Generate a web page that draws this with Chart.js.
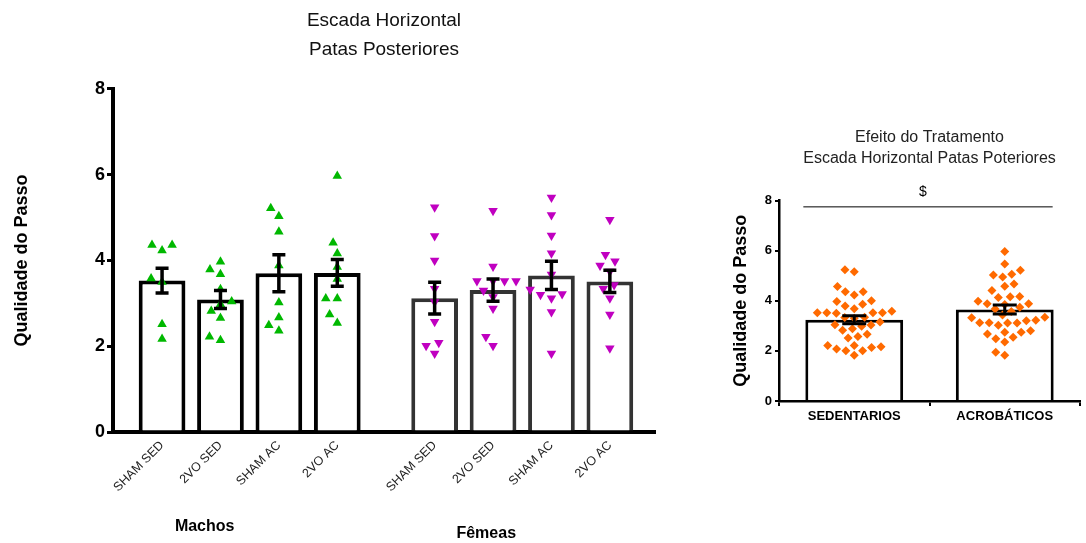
<!DOCTYPE html>
<html>
<head>
<meta charset="utf-8">
<script src="https://cdn.jsdelivr.net/npm/chart.js@4.4.1/dist/chart.umd.min.js"></script>
<style>
    body { margin: 0; background: #fff; }
    #left { position: absolute; left: 0; top: 0; width: 700px; height: 543px; }
    #right { position: absolute; left: 700px; top: 0; width: 386px; height: 543px; }
</style>
</head>
<body>
<div id="left"><canvas id="leftChart"></canvas></div>
<div id="right"><canvas id="rightChart"></canvas></div>
<script>
// Datos - gráfico izquierdo (por grupo)
const groupLabels = ['SHAM SED', '2VO SED', 'SHAM AC', '2VO AC', 'SHAM SED', '2VO SED', 'SHAM AC', '2VO AC'];
const sexLabels = ['Machos', 'Fêmeas'];
const groupMeans = [3.53, 3.09, 3.70, 3.71, 3.12, 3.31, 3.65, 3.51];
const groupSem = [0.29, 0.21, 0.43, 0.31, 0.37, 0.26, 0.33, 0.26];

const shamSedM = [4.36, 4.23, 4.36, 3.58, 3.50, 2.51, 2.17];
const vo2SedM = [3.97, 3.79, 3.68, 3.33, 2.98, 3.04, 2.82, 2.66, 2.14, 2.22];
const shamAcM = [5.22, 5.03, 4.67, 3.88, 3.02, 2.67, 2.49, 2.36];
const vo2AcM = [5.97, 4.41, 4.16, 3.85, 3.57, 3.11, 3.11, 2.74, 2.54];
const shamSedF = [5.24, 4.57, 4.00, 3.34, 3.03, 2.57, 2.08, 2.01, 1.83];
const vo2SedF = [5.16, 3.86, 3.52, 3.52, 3.52, 3.52, 3.30, 3.15, 2.88, 2.22, 2.01];
const shamAcF = [5.47, 5.06, 4.58, 4.17, 3.67, 3.20, 3.22, 3.32, 3.12, 2.80, 1.83];
const vo2AcF = [4.95, 4.13, 3.98, 3.88, 3.74, 3.43, 3.34, 3.12, 2.74, 1.95];

const yTicks = [0, 2, 4, 6, 8];

// Datos - gráfico derecho (efecto del tratamiento, datos agrupados)
const treatLabels = ['SEDENTARIOS', 'ACROBÁTICOS'];
const treatMeans = [3.24, 3.65];
const treatSem = [0.16, 0.18];
const sedentarios = [].concat(shamSedM, vo2SedM, shamSedF, vo2SedF);
const acrobaticos = [].concat(shamAcM, vo2AcM, shamAcF, vo2AcF);
const sigLevel = 7.77;
const sigMark = '$';

Chart.defaults.font.family = 'Arial, "Liberation Sans", sans-serif';
Chart.defaults.color = '#000';
Chart.defaults.animation = false;

const groupPoints = [shamSedM, vo2SedM, shamAcM, vo2AcM, shamSedF, vo2SedF, shamAcF, vo2AcF];

// espacio extra entre Machos y Fêmeas
const groupGap = 0.667;
function groupX(i) {
    return i < 4 ? i : i + groupGap;
}

// beeswarm simple en píxeles
function beeswarm(yPixels, diameter) {
    const order = yPixels.map((_, i) => i).sort((a, b) => yPixels[b] - yPixels[a]);
    const placed = [];
    const offsets = [];
    order.forEach(i => {
        const y = yPixels[i];
        const near = placed.filter(p => Math.abs(p.y - y) < diameter);
        const candidates = [0];
        near.forEach(p => {
            const dx = Math.sqrt(diameter * diameter - (p.y - y) ** 2);
            candidates.push(p.x - dx, p.x + dx);
        });
        candidates.sort((a, b) => Math.abs(a) - Math.abs(b));
        const x = candidates.find(c => near.every(p => Math.hypot(p.x - c, p.y - y) >= diameter - 0.01));
        placed.push({ x, y });
        offsets[i] = x;
    });
    return offsets;
}

function applySwarm(chart, pointSets, centers, diameter) {
    const xs = chart.scales.x;
    const ys = chart.scales.y;
    const pxPerUnit = xs.getPixelForValue(1) - xs.getPixelForValue(0);
    pointSets.forEach((vals, k) => {
        const off = beeswarm(vals.map(v => ys.getPixelForValue(v)), diameter);
        chart.data.datasets[k + 1].data = vals.map((v, i) => ({ x: centers[k] + off[i] / pxPerUnit, y: v }));
    });
    chart.update('none');
}

function makeErrorBars(means, sem, width, cap) {
    return {
        id: 'errorBars',
        afterDatasetsDraw(chart) {
            const bars = chart.getDatasetMeta(0).data;
            const y = chart.scales.y;
            const ctx = chart.ctx;
            ctx.save();
            ctx.strokeStyle = '#000';
            ctx.lineWidth = width;
            means.forEach((m, i) => {
                const x = bars[i].x;
                const top = y.getPixelForValue(m + sem[i]);
                const bot = y.getPixelForValue(m - sem[i]);
                ctx.beginPath();
                ctx.moveTo(x, top);
                ctx.lineTo(x, bot);
                ctx.moveTo(x - cap / 2, top);
                ctx.lineTo(x + cap / 2, top);
                ctx.moveTo(x - cap / 2, bot);
                ctx.lineTo(x + cap / 2, bot);
                ctx.stroke();
            });
            ctx.restore();
        }
    };
}

const sexLabelsPlugin = {
    id: 'sexLabels',
    afterDraw(chart) {
        const x = chart.scales.x;
        const ctx = chart.ctx;
        ctx.save();
        ctx.font = 'bold 16px Arial, "Liberation Sans", sans-serif';
        ctx.fillStyle = '#000';
        ctx.textAlign = 'center';
        ctx.textBaseline = 'middle';
        ctx.fillText(sexLabels[0], x.getPixelForValue(groupX(1.5)) - 45, 527);
        ctx.fillText(sexLabels[1], x.getPixelForValue(groupX(5.5)) - 36, 534);
        ctx.restore();
    }
};

const significancePlugin = {
    id: 'significance',
    afterDatasetsDraw(chart) {
        const bars = chart.getDatasetMeta(0).data;
        const left = bars[0].x - bars[0].width / 2 - 2;
        const right = bars[1].x + bars[1].width / 2 - 1;
        const y = chart.scales.y.getPixelForValue(sigLevel);
        const ctx = chart.ctx;
        ctx.save();
        ctx.strokeStyle = '#000';
        ctx.lineWidth = 1;
        ctx.beginPath();
        ctx.moveTo(left, y + 0.5);
        ctx.lineTo(right, y + 0.5);
        ctx.stroke();
        ctx.font = '14px Arial, "Liberation Sans", sans-serif';
        ctx.fillStyle = '#000';
        ctx.textAlign = 'center';
        ctx.textBaseline = 'middle';
        ctx.fillText(sigMark, (left + right) / 2 - 5, y - 14);
        ctx.restore();
    }
};

// Gráfico izquierdo
const leftChart = new Chart(document.getElementById('leftChart'), {
    type: 'bar',
    data: {
        datasets: [{
            data: groupMeans.map((m, i) => ({ x: groupX(i), y: m })),
            backgroundColor: '#fff',
            borderColor: groupMeans.map((m, i) => i < 4 ? '#000' : '#333'),
            borderWidth: 4,
            categoryPercentage: 1,
            barPercentage: 0.8,
            order: 2
        },
        ...groupPoints.map((vals, i) => ({
            type: 'scatter',
            data: vals.map(v => ({ x: groupX(i), y: v })),
            showLine: false,
            pointStyle: 'triangle',
            pointRotation: i < 4 ? 0 : 180,
            pointRadius: 5.5,
            pointBackgroundColor: i < 4 ? '#00b800' : '#c000c0',
            pointBorderWidth: 0,
            order: 1
        }))
        ]
    },
    options: {
        responsive: true,
        maintainAspectRatio: false,
        events: [],
        layout: { padding: { left: 0, right: 45, top: 0, bottom: 0 } },
        plugins: {
            legend: { display: false },
            tooltip: { enabled: false },
            title: {
                display: true,
                fullSize: false,
                text: ['Escada Horizontal', 'Patas Posteriores'],
                color: '#111',
                font: { size: 19, weight: 'normal', lineHeight: 1.55 },
                padding: { top: 6, bottom: 24 }
            }
        },
        scales: {
            x: {
                type: 'linear',
                min: -0.84,
                max: 8.44,
                offset: false,
                afterBuildTicks: s => { s.ticks = groupLabels.map((_, i) => ({ value: groupX(i) })); },
                afterFit: s => { s.height = 111; },
                grid: { display: false, drawTicks: false },
                border: { color: '#000', width: 4 },
                ticks: {
                    autoSkip: false,
                    minRotation: 45,
                    maxRotation: 45,
                    padding: 6,
                    color: '#222',
                    font: { size: 12.5 },
                    callback: (v, i) => groupLabels[i]
                }
            },
            y: {
                min: 0,
                max: 8,
                afterBuildTicks: s => { s.ticks = yTicks.map(v => ({ value: v })); },
                afterFit: s => { s.width = 113; },
                grid: { display: true, drawOnChartArea: false, drawTicks: true, tickLength: 6, lineWidth: 3, color: '#000' },
                border: { color: '#000', width: 4 },
                ticks: { padding: 2, color: '#000', font: { size: 18, weight: 'bold' } },
                title: {
                    display: true,
                    text: 'Qualidade do Passo',
                    color: '#000',
                    font: { size: 18, weight: 'bold' },
                    padding: { top: 11, bottom: 0 }
                }
            }
        }
    },
    plugins: [makeErrorBars(groupMeans, groupSem, 3.5, 13), sexLabelsPlugin]
});
applySwarm(leftChart, groupPoints, groupPoints.map((_, i) => groupX(i)), 11.5);

// Gráfico derecho
const treatPoints = [sedentarios, acrobaticos];
const rightChart = new Chart(document.getElementById('rightChart'), {
    type: 'bar',
    data: {
        datasets: [{
            data: treatMeans.map((m, i) => ({ x: i, y: m })),
            backgroundColor: '#fff',
            borderColor: '#000',
            borderWidth: 3,
            categoryPercentage: 1,
            barPercentage: 0.65,
            order: 2
        },
        ...treatPoints.map(vals => ({
            type: 'scatter',
            data: vals.map(v => ({ x: 0, y: v })),
            showLine: false,
            pointStyle: 'rectRot',
            pointRadius: 4.5,
            pointBackgroundColor: '#ff6a00',
            pointBorderWidth: 0,
            order: 1
        }))
        ]
    },
    options: {
        responsive: true,
        maintainAspectRatio: false,
        events: [],
        layout: { padding: { left: 0, right: 6, top: 0, bottom: 0 } },
        plugins: {
            legend: { display: false },
            tooltip: { enabled: false },
            title: {
                display: true,
                fullSize: false,
                text: ['Efeito do Tratamento', 'Escada Horizontal Patas Poteriores'],
                color: '#222',
                font: { size: 16, weight: 'normal', lineHeight: 1.3 },
                padding: { top: 127, bottom: 32 }
            }
        },
        scales: {
            x: {
                type: 'linear',
                min: -0.5,
                max: 1.5,
                offset: false,
                afterBuildTicks: s => { s.ticks = treatLabels.map((_, i) => ({ value: i })); },
                afterFit: s => { s.height = 142; },
                grid: { display: true, drawOnChartArea: false, drawTicks: true, tickLength: 5, lineWidth: 2, color: '#000' },
                border: { color: '#000', width: 2.5 },
                ticks: {
                    autoSkip: false,
                    maxRotation: 0,
                    padding: 3,
                    color: '#000',
                    font: { size: 13, weight: 'bold' },
                    callback: (v, i) => treatLabels[i]
                }
            },
            y: {
                min: 0,
                max: 8,
                afterBuildTicks: s => { s.ticks = yTicks.map(v => ({ value: v })); },
                afterFit: s => { s.width = 79; },
                grid: { display: true, drawOnChartArea: false, drawTicks: true, tickLength: 4, lineWidth: 2, color: '#000' },
                border: { color: '#000', width: 2.5 },
                ticks: { padding: 3, color: '#000', font: { size: 13, weight: 'bold' } },
                title: {
                    display: true,
                    text: 'Qualidade do Passo',
                    color: '#000',
                    font: { size: 18, weight: 'bold' },
                    padding: { top: 30, bottom: 0 }
                }
            }
        }
    },
    plugins: [makeErrorBars(treatMeans, treatSem, 3, 24), significancePlugin]
});
applySwarm(rightChart, treatPoints, [0, 1], 9.5);
</script>
</body>
</html>
